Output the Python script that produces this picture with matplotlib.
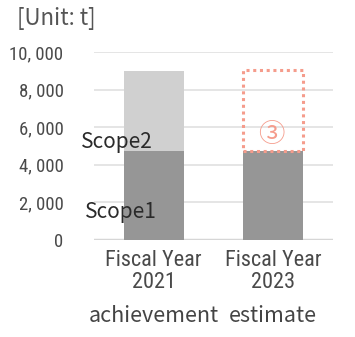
import matplotlib
matplotlib.use("Agg")
import matplotlib.pyplot as plt
from matplotlib.patches import Rectangle

# CO2 emissions, unit: t
years = ["Fiscal Year\n2021", "Fiscal Year\n2023"]
status = ["achievement", "estimate"]
scope1 = [4750, 4750]
scope2 = [4250, 0]
target_total = 9050  # dotted outline for the 2023 estimate

c_scope1 = "#969696"
c_scope2 = "#d0d0d0"
c_dot = "#f59c8c"
label_font = ["Noto Sans CJK JP", "DejaVu Sans"]
tick_font = ["Roboto Condensed", "DejaVu Sans"]

fig = plt.figure(figsize=(3.55, 3.37), dpi=100)
ax = fig.add_axes([0.265, 0.288, 0.673, 0.558])

x = range(len(years))
ax.bar(x, scope1, width=0.5, color=c_scope1, zorder=3)
ax.bar(x, scope2, width=0.5, bottom=scope1, color=c_scope2, zorder=3)

# outline of the reduction target on top of the estimate
ax.add_patch(Rectangle((1 - 0.25, scope1[1]), 0.5, target_total - scope1[1],
                       fill=False, edgecolor=c_dot, linewidth=2.2,
                       linestyle=(0, (1, 1.2)), zorder=4))
ax.text(0.98, 5600, "\u2462", color=c_dot,
        fontsize=19, ha="center", va="center", family=label_font, zorder=5)

ax.set_xlim(-0.5, 1.5)
ax.set_ylim(0, 10000)
ax.set_yticks(range(0, 10001, 2000))
ax.set_yticklabels([f"{v:,}".replace(",", ", ") if v else "0" for v in range(0, 10001, 2000)],
                   family=tick_font, fontstretch="condensed", fontsize=13.5,
                   color="#4a4a4a")
ax.set_xticks(list(x))
ax.set_xticklabels(years, family=tick_font, fontstretch="condensed", fontsize=16,
                   color="#4a4a4a", linespacing=1.1)
ax.tick_params(axis="y", length=0, pad=22)
ax.tick_params(axis="x", length=0, pad=7)
ax.grid(axis="y", color="#e3e3e3", linewidth=1.3, zorder=0)
for s in ax.spines.values():
    s.set_visible(False)
ax.axhline(0, color="#d6d6d6", linewidth=2.5, zorder=2)

# series labels and captions
ax.text(-0.307, 5213, "Scope2", family=label_font, fontsize=15, color="#2a2a2a",
        ha="center", va="center", clip_on=False, zorder=6)
ax.text(-0.273, 1489, "Scope1", family=label_font, fontsize=15, color="#2a2a2a",
        ha="center", va="center", clip_on=False, zorder=6)
for i, s in enumerate(status):
    fig.text((94 + 59.5 + 119 * i) / 355, 1 - 316 / 337, s, family=label_font,
             fontsize=15.5, color="#444444", ha="center", va="center")
fig.text(17 / 355, 1 - 19 / 337, "[Unit: t]", family=label_font, fontsize=16,
         color="#555555", ha="left", va="center")

fig.savefig("out.png", dpi=100)
